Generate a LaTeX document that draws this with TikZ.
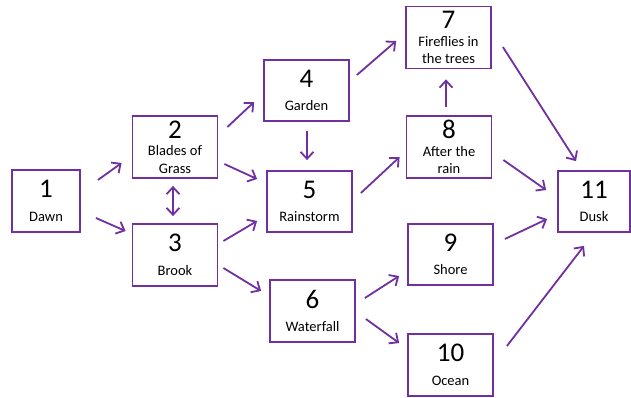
\documentclass[tikz,border=0pt]{standalone}
\usepackage{fontspec}
\setmainfont{Carlito}
\usetikzlibrary{arrows.meta}
\definecolor{stagepurple}{HTML}{7030A0}
\newcommand{\stagenum}[1]{{\fontsize{27}{27}\selectfont #1}}

\begin{document}
\begin{tikzpicture}[x=1pt,y=-1pt,
  stage/.style={draw=stagepurple,line width=1.8pt,inner sep=0pt,minimum width=85pt,minimum height=62pt,align=center,font=\fontsize{14.5}{17.5}\selectfont},
  barb/.tip={Straight Barb[length=7pt,width=13pt]},
  flow/.style={draw=stagepurple,line width=1.8pt,-barb}]
\useasboundingbox (0,0) rectangle (631,398);
% stages
\node[stage,minimum width=68pt] (dawn) at (46,201) {\stagenum{1}\\[6pt]Dawn};
\node[stage] (blades) at (175,147) {\stagenum{2}\\Blades of\\Grass};
\node[stage] (brook) at (175,255) {\stagenum{3}\\[6pt]Brook};
\node[stage,minimum height=61pt] (garden) at (306.5,90.5) {\stagenum{4}\\[6pt]Garden};
\node[stage,minimum height=61pt] (rainstorm) at (309.5,201.5) {\stagenum{5}\\[6pt]Rainstorm};
\node[stage] (waterfall) at (312.5,311) {\stagenum{6}\\[6pt]Waterfall};
\node[stage] (fireflies) at (448.5,37.5) {\stagenum{7}\\Fireflies in\\the trees};
\node[stage] (afterrain) at (449,147) {\stagenum{8}\\After the\\rain};
\node[stage,minimum height=61pt] (shore) at (450.5,254.5) {\stagenum{9}\\[6pt]Shore};
\node[stage] (ocean) at (450.5,365) {\stagenum{10}\\[6pt]Ocean};
\node[stage,minimum width=72pt,minimum height=61pt] (dusk) at (594,201.5) {\stagenum{11}\\[6pt]Dusk};
% flows
\draw[flow] ([shift={(17,-21)}]dawn.east) -- ([shift={(-10,16)}]blades.west);
\draw[flow] ([shift={(15,17)}]dawn.east) -- ([shift={(-6,-24)}]brook.west);
\draw[flow] ([shift={(9,-20)}]blades.east) -- ([shift={(-9,11.5)}]garden.west);
\draw[flow] ([shift={(6,17)}]blades.east) -- ([shift={(-9,-22.5)}]rainstorm.west);
\draw[flow,barb-barb] ([shift={(-2,7)}]blades.south) -- ([shift={(-2,-7)}]brook.north);
\draw[flow] ([shift={(5,-14)}]brook.east) -- ([shift={(-9,19.5)}]rainstorm.west);
\draw[flow] ([shift={(5,13)}]brook.east) -- ([shift={(-8,-20)}]waterfall.west);
\draw[flow] ([shift={(0.5,9)}]garden.south) -- ([shift={(-2.5,-10)}]rainstorm.north);
\draw[flow] ([shift={(7,-15.5)}]garden.east) -- ([shift={(-9,3.5)}]fireflies.west);
\draw[flow] ([shift={(8,-8.5)}]rainstorm.east) -- ([shift={(-6,10)}]afterrain.west);
\draw[flow] ([shift={(9,-13)}]waterfall.east) -- ([shift={(-8,21.5)}]shore.west);
\draw[flow] ([shift={(10,8)}]waterfall.east) -- ([shift={(-8,-22)}]ocean.west);
\draw[flow] ([shift={(-3,-8)}]afterrain.north) -- ([shift={(-2.5,10)}]fireflies.south);
\draw[flow] ([shift={(11,9.5)}]fireflies.east) -- ([shift={(-18,-9)}]dusk.north);
\draw[flow] ([shift={(11,13)}]afterrain.east) -- ([shift={(-11,-11.5)}]dusk.west);
\draw[flow] ([shift={(11,-15.5)}]shore.east) -- ([shift={(-10,17.5)}]dusk.west);
\draw[flow] ([shift={(13,-19)}]ocean.east) -- ([shift={(-10,13)}]dusk.south);
\end{tikzpicture}
\end{document}
